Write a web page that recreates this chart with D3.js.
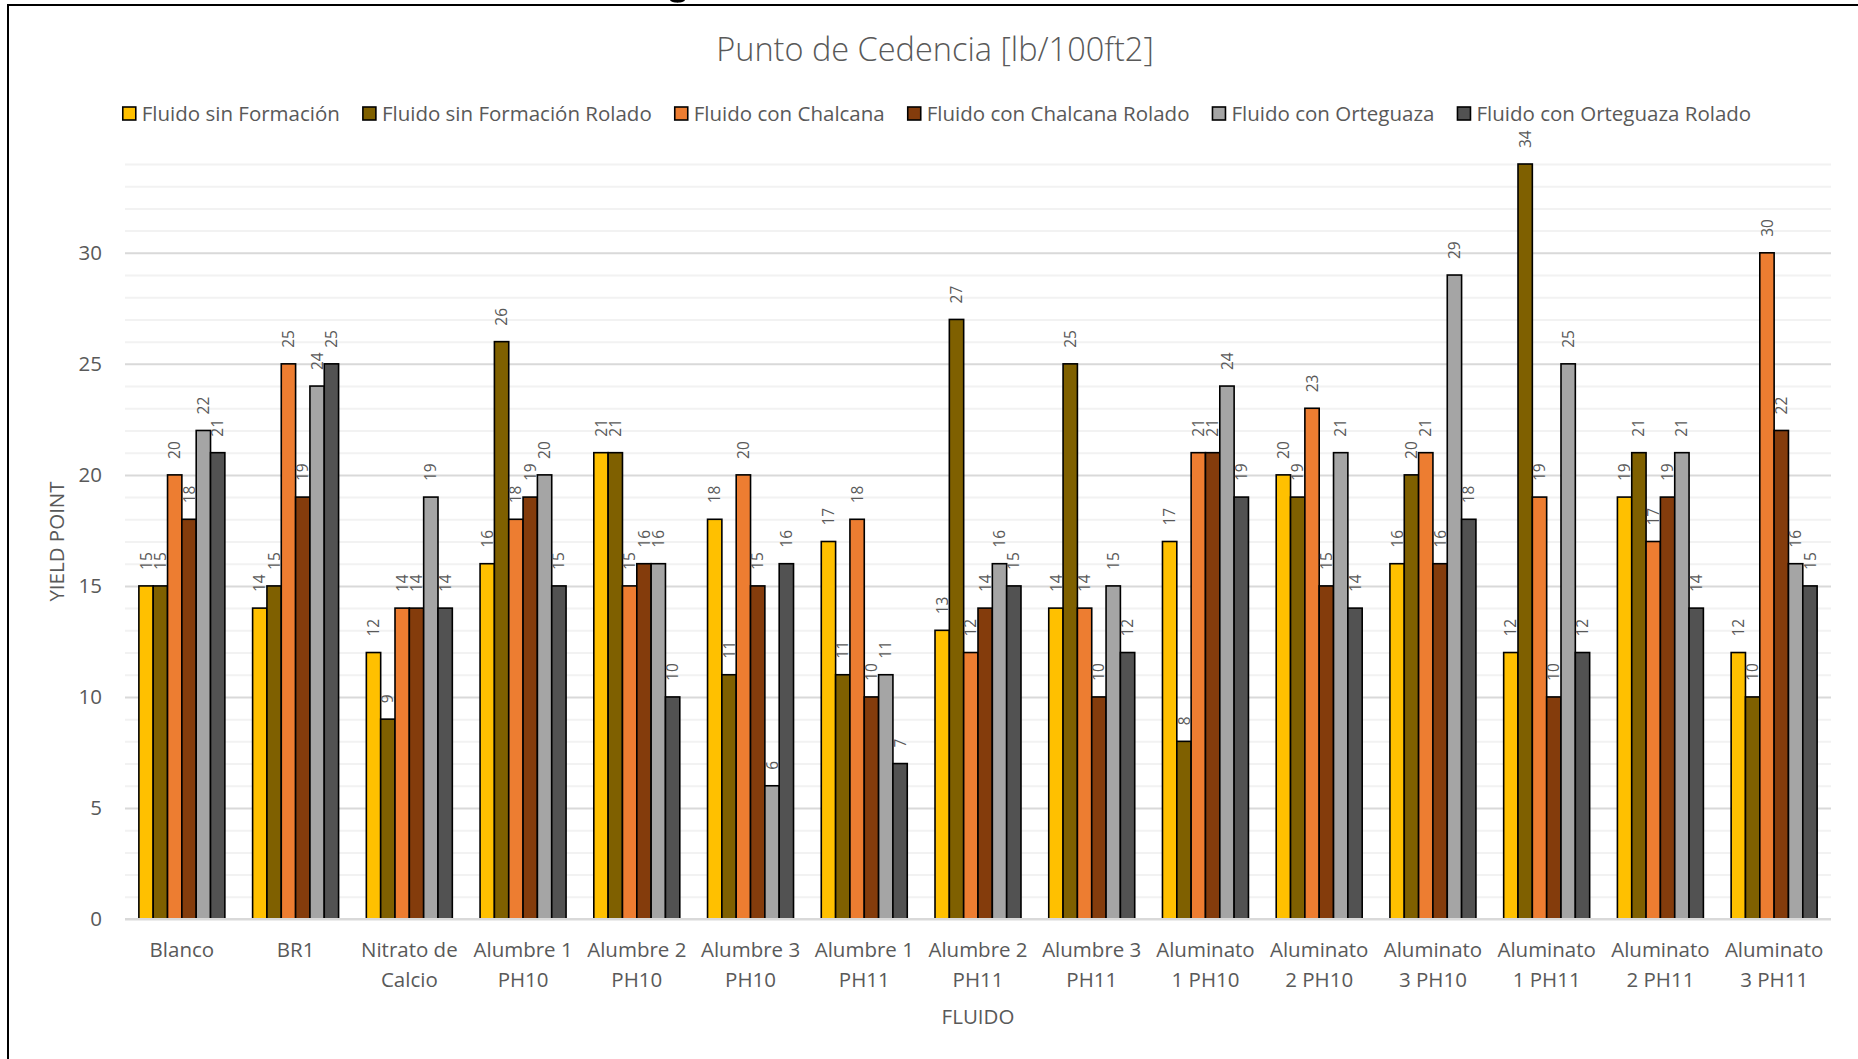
<!DOCTYPE html>
<html>
<head>
<meta charset="utf-8">
<script src="https://cdn.jsdelivr.net/npm/d3@7"></script>
<style>
  body { margin: 0; background: #fff; }
  text { font-family: "Open Sans", "Noto Sans", sans-serif; }
</style>
</head>
<body>
<svg id="chart" width="1858" height="1059"></svg>
<script>
// Categories (fluids tested) and their two-line tick labels
const categories = [
  "Blanco", "BR1", "Nitrato de Calcio",
  "Alumbre 1 PH10", "Alumbre 2 PH10", "Alumbre 3 PH10",
  "Alumbre 1 PH11", "Alumbre 2 PH11", "Alumbre 3 PH11",
  "Aluminato 1 PH10", "Aluminato 2 PH10", "Aluminato 3 PH10",
  "Aluminato 1 PH11", "Aluminato 2 PH11", "Aluminato 3 PH11"
];
const tickLabels = [
  ["Blanco"], ["BR1"], ["Nitrato de", "Calcio"],
  ["Alumbre 1", "PH10"], ["Alumbre 2", "PH10"], ["Alumbre 3", "PH10"],
  ["Alumbre 1", "PH11"], ["Alumbre 2", "PH11"], ["Alumbre 3", "PH11"],
  ["Aluminato", "1 PH10"], ["Aluminato", "2 PH10"], ["Aluminato", "3 PH10"],
  ["Aluminato", "1 PH11"], ["Aluminato", "2 PH11"], ["Aluminato", "3 PH11"]
];

// Yield point [lb/100ft2] per series
const sinFormacion       = [15, 14, 12, 16, 21, 18, 17, 13, 14, 17, 20, 16, 12, 19, 12];
const sinFormacionRolado = [15, 15,  9, 26, 21, 11, 11, 27, 25,  8, 19, 20, 34, 21, 10];
const conChalcana        = [20, 25, 14, 18, 15, 20, 18, 12, 14, 21, 23, 21, 19, 17, 30];
const conChalcanaRolado  = [18, 19, 14, 19, 16, 15, 10, 14, 10, 21, 15, 16, 10, 19, 22];
const conOrteguaza       = [22, 24, 19, 20, 16,  6, 11, 16, 15, 24, 21, 29, 25, 21, 16];
const conOrteguazaRolado = [21, 25, 14, 15, 10, 16,  7, 15, 12, 19, 14, 18, 12, 14, 15];

const seriesNames = [
  "Fluido sin Formación", "Fluido sin Formación Rolado",
  "Fluido con Chalcana", "Fluido con Chalcana Rolado",
  "Fluido con Orteguaza", "Fluido con Orteguaza Rolado"
];
const seriesValues = [
  sinFormacion, sinFormacionRolado, conChalcana,
  conChalcanaRolado, conOrteguaza, conOrteguazaRolado
];
const seriesColors = ["#FFC000", "#7F6000", "#ED7D31", "#843C0C", "#A5A5A5", "#525252"];

const yTicks = [0, 5, 10, 15, 20, 25, 30];
const yMax = 34;

const chartTitle = "Punto de Cedencia [lb/100ft2]";
const yTitle = "YIELD POINT";
const xTitle = "FLUIDO";

// ---- layout ----
const svg = d3.select("#chart");
const W = 1858, H = 1059;
const plot = { left: 125, right: 1831, top: 164, bottom: 919 };
const textColor = "#595959";
const fontSize = 20.5;

svg.append("rect").attr("width", W).attr("height", H).attr("fill", "#fff");

// tail of the caption glyph that pokes in above the chart frame
svg.append("path")
  .attr("d", "M670,0 C671,3.5 684,3.5 685,0 Z")
  .attr("fill", "#000");

// chart frame (left and top edges)
svg.append("path").attr("d", `M8,${H} V5 H${W}`)
  .attr("fill", "none").attr("stroke", "#000").attr("stroke-width", 2);

const x0 = d3.scaleBand().domain(categories)
  .range([plot.left, plot.right]).paddingInner(0.244).paddingOuter(0.122);
const x1 = d3.scaleBand().domain(d3.range(seriesNames.length))
  .range([0, x0.bandwidth()]);
const y = d3.scaleLinear().domain([0, yMax]).range([plot.bottom, plot.top]);

// minor gridlines (every unit)
const minorAxis = d3.axisLeft(y).tickValues(d3.range(1, yMax + 1).filter(v => v % 5 !== 0))
  .tickSize(-(plot.right - plot.left)).tickFormat("");
svg.append("g").attr("transform", `translate(${plot.left},0)`).call(minorAxis)
  .call(g => g.select(".domain").remove())
  .call(g => g.selectAll("line").attr("stroke", "#F2F2F2").attr("stroke-width", 2));

// major gridlines + tick labels
const majorAxis = d3.axisLeft(y).tickValues(yTicks)
  .tickSize(-(plot.right - plot.left)).tickPadding(23);
svg.append("g").attr("transform", `translate(${plot.left},0)`).call(majorAxis)
  .call(g => g.select(".domain").remove())
  .call(g => g.selectAll("line").attr("stroke", "#D9D9D9").attr("stroke-width", 2))
  .call(g => g.selectAll("text").attr("fill", textColor)
    .attr("font-size", fontSize).style("font-family", "'Open Sans', sans-serif"));

// bars
const groups = svg.append("g").selectAll("g")
  .data(categories).join("g")
  .attr("transform", d => `translate(${x0(d)},0)`);

groups.selectAll("rect")
  .data((c, ci) => seriesValues.map((vals, si) => ({ si, v: vals[ci] })))
  .join("rect")
  .attr("x", d => x1(d.si))
  .attr("y", d => y(d.v))
  .attr("width", x1.bandwidth())
  .attr("height", d => y(0) - y(d.v))
  .attr("fill", d => seriesColors[d.si])
  .attr("stroke", "#000")
  .attr("stroke-width", 1.6);

// data labels, rotated, above each bar
groups.selectAll("text.val")
  .data((c, ci) => seriesValues.map((vals, si) => ({ si, v: vals[ci] })))
  .join("text")
  .attr("class", "val")
  .attr("transform", d => `translate(${x1(d.si) + x1.bandwidth() / 2},${y(d.v) - 16}) rotate(-90)`)
  .attr("dy", "0.36em")
  .attr("text-anchor", "start")
  .attr("font-size", 15.5)
  .attr("fill", textColor)
  .text(d => d.v);

// category axis (baseline + wrapped labels)
svg.append("line")
  .attr("x1", plot.left).attr("x2", plot.right)
  .attr("y1", y(0)).attr("y2", y(0))
  .attr("stroke", "#D9D9D9").attr("stroke-width", 2);

const xAxis = d3.axisBottom(x0).tickSize(0).tickFormat("");
const xg = svg.append("g").attr("transform", `translate(0,${plot.bottom})`).call(xAxis);
xg.select(".domain").remove();
xg.selectAll(".tick").each(function (d, i) {
  const t = d3.select(this).append("text")
    .attr("text-anchor", "middle")
    .attr("fill", textColor)
    .attr("font-size", fontSize)
    .style("font-family", "'Open Sans', sans-serif");
  tickLabels[i].forEach((line, li) => {
    t.append("tspan").attr("x", 0).attr("y", 38 + li * 30).text(line);
  });
});

// titles
svg.append("text")
  .attr("x", 935).attr("y", 61)
  .attr("text-anchor", "middle")
  .attr("font-size", 32.5)
  .attr("font-weight", 300)
  .attr("fill", textColor)
  .text(chartTitle);

svg.append("text")
  .attr("transform", `translate(57,${(plot.top + plot.bottom) / 2}) rotate(-90)`)
  .attr("text-anchor", "middle")
  .attr("dy", "0.36em")
  .attr("font-size", fontSize)
  .attr("fill", textColor)
  .text(yTitle);

svg.append("text")
  .attr("x", (plot.left + plot.right) / 2).attr("y", 1024)
  .attr("text-anchor", "middle")
  .attr("font-size", fontSize)
  .attr("fill", textColor)
  .text(xTitle);

// legend, centred under the title
const legend = svg.append("g");
const sw = 13, swGap = 6, itemGap = 23;
const items = legend.selectAll("g").data(seriesNames).join("g");
items.append("rect")
  .attr("width", sw).attr("height", sw)
  .attr("y", 107)
  .attr("fill", (d, i) => seriesColors[i])
  .attr("stroke", "#000").attr("stroke-width", 1.6);
items.append("text")
  .attr("x", sw + swGap).attr("y", 120.5)
  .attr("font-size", fontSize)
  .attr("fill", textColor)
  .text(d => d);
let cursor = 0;
const offsets = [];
items.each(function () {
  offsets.push(cursor);
  const tw = d3.select(this).select("text").node().getComputedTextLength();
  cursor += sw + swGap + tw + itemGap;
});
const legendWidth = cursor - itemGap;
const legendStart = 937 - legendWidth / 2;
items.attr("transform", (d, i) => `translate(${legendStart + offsets[i]},0)`);
</script>
</body>
</html>
